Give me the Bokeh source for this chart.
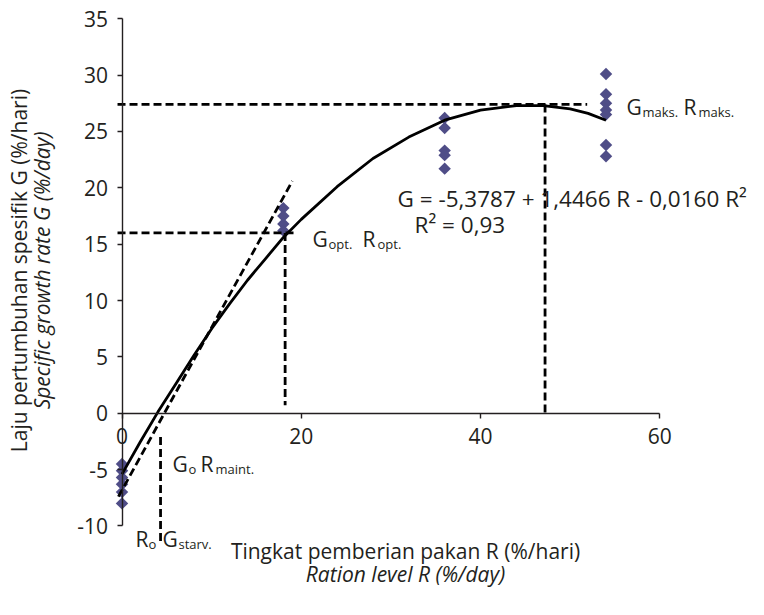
import numpy as np
from bokeh.plotting import figure
from bokeh.models import Range1d, FixedTicker, Label, PrintfTickFormatter
from bokeh.embed import file_html
from bokeh.resources import INLINE

# ---------------- data ----------------
r_levels = [0, 18, 36, 54]
g_at_r0 = [-4.5, -5.1, -5.7, -6.3, -7.0, -8.0]
g_at_r18 = [18.2, 17.5, 16.8, 16.2]
g_at_r36 = [26.2, 25.3, 23.3, 22.9, 21.7]
g_at_r54 = [30.1, 28.3, 27.5, 26.9, 26.5, 23.8, 22.8]

fit_r = [0, 2, 4, 6, 8, 10, 12, 14, 16, 18, 20, 24, 28, 32, 36, 40, 44, 47, 50, 52, 54]
fit_g = [-5.4, -2.6, 0.1, 2.6, 5.1, 7.5, 9.7, 11.8, 13.7, 15.6, 17.2, 20.1, 22.6, 24.5,
         26.0, 26.9, 27.3, 27.3, 27.0, 26.6, 26.0]

tangent_r = [-0.4, 19.0]
tangent_g = [-7.4, 20.6]

r_opt, g_opt = 18.2, 16.0
r_maks, g_maks = 47.2, 27.4
r_maint = 4.3

x_ticks = [0, 20, 40, 60]
y_ticks = [-10, -5, 0, 5, 10, 15, 20, 25, 30, 35]

# ---------------- figure ----------------
W, H = 764, 606
x0, x1 = -13.556, 71.684
y0, y1 = -17.15, 36.62

FONT = "Open Sans"
TXT = "#231F20"
DOT = "#4F4D87"

p = figure(width=W, height=H, output_backend="svg", toolbar_location=None,
           x_range=Range1d(x0, x1), y_range=Range1d(y0, y1),
           min_border_left=0, min_border_right=0, min_border_top=0, min_border_bottom=0)
p.outline_line_color = None
p.grid.visible = False
p.background_fill_color = "white"
p.border_fill_color = "white"


def dx(px):
    return x0 + px * (x1 - x0) / W


def dy(py):
    return y1 - py * (y1 - y0) / H


# axes crossing at the origin
p.xaxis.fixed_location = 0
p.yaxis.fixed_location = 0
p.xaxis.ticker = FixedTicker(ticks=x_ticks)
p.yaxis.ticker = FixedTicker(ticks=y_ticks)
p.xaxis.bounds = (0, 60)
p.yaxis.bounds = (-10, 35)
for ax in (p.xaxis, p.yaxis):
    ax.formatter = PrintfTickFormatter(format="%d")
    ax.axis_line_color = TXT
    ax.axis_line_width = 1.4
    ax.major_tick_line_color = TXT
    ax.major_tick_line_width = 1.4
    ax.major_tick_in = 0
    ax.major_tick_out = 5
    ax.minor_tick_line_color = None
    ax.major_label_text_font = FONT
    ax.major_label_text_font_size = "21px"
    ax.major_label_text_color = TXT
p.xaxis.major_label_standoff = 10
p.yaxis.major_label_standoff = 9

# ---------------- data marks ----------------
for r, gs in zip(r_levels, [g_at_r0, g_at_r18, g_at_r36, g_at_r54]):
    p.scatter([r] * len(gs), gs, marker="square", angle=np.pi / 4, size=8.8,
              fill_color=DOT, line_color=None)

p.line(fit_r, fit_g, line_color="black", line_width=2.8)
dash = "8 4"
p.line(tangent_r, tangent_g, line_color="black", line_width=2.8, line_dash=dash)
p.line([-0.5, 51.9], [g_maks, g_maks], line_color="black", line_width=2.8, line_dash=dash)
p.line([r_maks, r_maks], [g_maks, 0], line_color="black", line_width=2.8, line_dash=dash)
p.line([-0.5, 19.3], [g_opt, g_opt], line_color="black", line_width=2.8, line_dash=dash)
p.line([r_opt, r_opt], [g_opt, 0.7], line_color="black", line_width=2.8, line_dash=dash)
p.line([r_maint, r_maint], [-2.1, -11.7], line_color="black", line_width=2.8, line_dash=dash)


# ---------------- text ----------------
def put(px, py, text, size=21, style="normal", align="left", baseline="alphabetic", angle=0):
    p.add_layout(Label(x=dx(px), y=dy(py), text=text, text_font=FONT,
                       text_font_size=f"{size}px", text_font_style=style,
                       text_color=TXT, text_align=align, text_baseline=baseline,
                       angle=angle))


SUB = 13
# G_o R_maint.
put(172, 463, "G"); put(188, 468, "o", SUB)
put(200, 463, "R"); put(215, 468, "maint.", SUB)
# R_o G_starv.
put(135, 538, "R"); put(148, 543, "o", SUB)
put(162, 538, "G"); put(178, 543, "starv.", SUB)
# G_opt. R_opt.
put(312, 238, "G"); put(328, 243, "opt.", SUB)
put(362, 238, "R"); put(377, 243, "opt.", SUB)
# G_maks. R_maks.
put(626, 106, "G"); put(642, 111, "maks.", SUB)
put(683, 106, "R"); put(698, 111, "maks.", SUB)
# regression
put(397, 198, "G = -5,3787 + 1,4466 R - 0,0160 R²", size=22.5)
put(414, 224, "R² = 0,93", size=22.5)

# axis titles
put(405, 550, "Tingkat pemberian pakan R (%/hari)", align="center", baseline="middle")
put(405, 573, "Ration level R (%/day)", style="italic", align="center", baseline="middle")
put(18, 270, "Laju pertumbuhan spesifik G (%/hari)", align="center", baseline="middle", angle=np.pi / 2)
put(41, 270, "Specific growth rate G (%/day)", style="italic", align="center", baseline="middle",
    angle=np.pi / 2)

open("out.html", "w").write(file_html(p, INLINE))
